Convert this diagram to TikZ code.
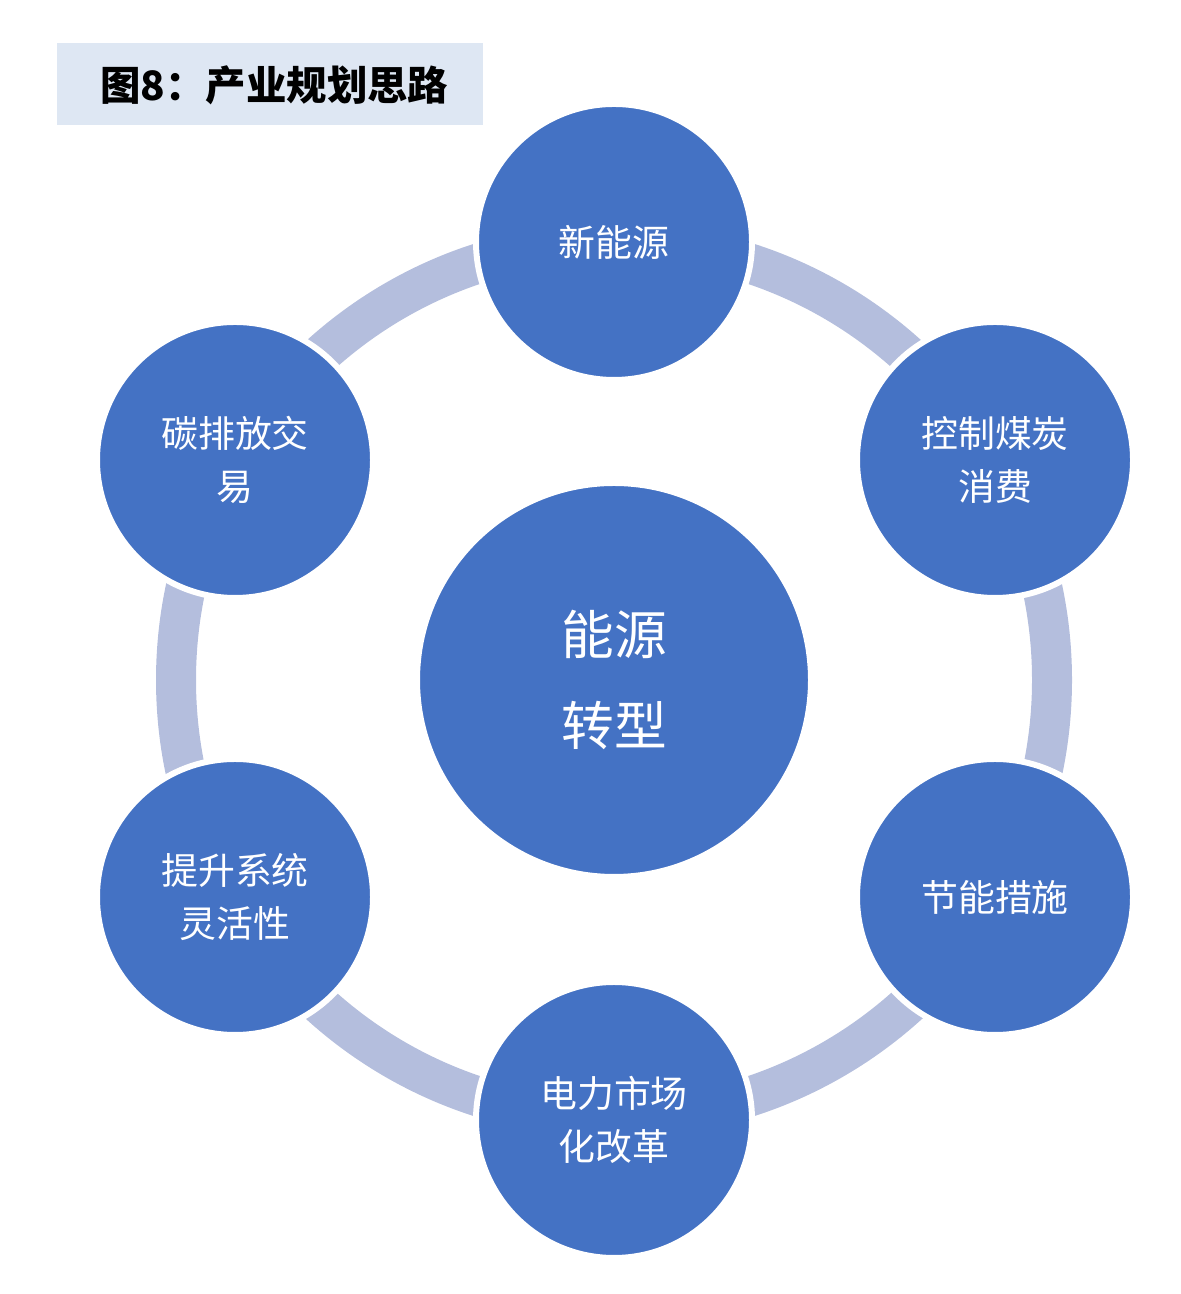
\documentclass[tikz,border=0pt]{standalone}
\usepackage{fontspec}
\newfontfamily\cjk{Noto Sans CJK SC}
\usetikzlibrary{positioning}
\definecolor{ballblue}{HTML}{4472C4}
\definecolor{ringblue}{HTML}{B4BEDD}
\definecolor{titlebg}{HTML}{DEE7F3}
\tikzset{
  ball/.style={circle, fill=ballblue, draw=white, line width=0.06cm, minimum size=2.76cm, text=white, align=center, font=\cjk\fontsize{10.5}{15}\selectfont},
  core/.style={circle, fill=ballblue, draw=white, line width=0.06cm, minimum size=3.94cm, text=white, align=center, font=\cjk\fontsize{15}{26}\selectfont}
}
\begin{document}
\begin{tikzpicture}
\useasboundingbox (0,0) rectangle (11.8,12.94);

% title
\fill[titlebg] (0.57,11.69) rectangle (4.83,12.51);
\node[anchor=west, font=\cjk\bfseries\fontsize{11.5}{14}\selectfont] (title) at (0.88,12.09) {图8：产业规划思路};

% ring behind the balls
\coordinate (mid) at (6.14,6.14);
\draw[ringblue, line width=0.4cm] (mid) circle (4.38);

\node[core] (energy) at (mid) {能源\\转型};

\node[ball] (newe)  at (6.14,10.52) {新能源};
\node[ball] (coal)  at (9.95,8.34)  {控制煤炭\\消费};
\node[ball] (save)  at (9.95,3.97)  {节能措施};
\node[ball] (power) at (6.14,1.74)  {电力市场\\化改革};
\node[ball] (flex)  at (2.35,3.97)  {提升系统\\灵活性};
\node[ball] (trade) at (2.35,8.34)  {碳排放交\\易};

\end{tikzpicture}
\end{document}
